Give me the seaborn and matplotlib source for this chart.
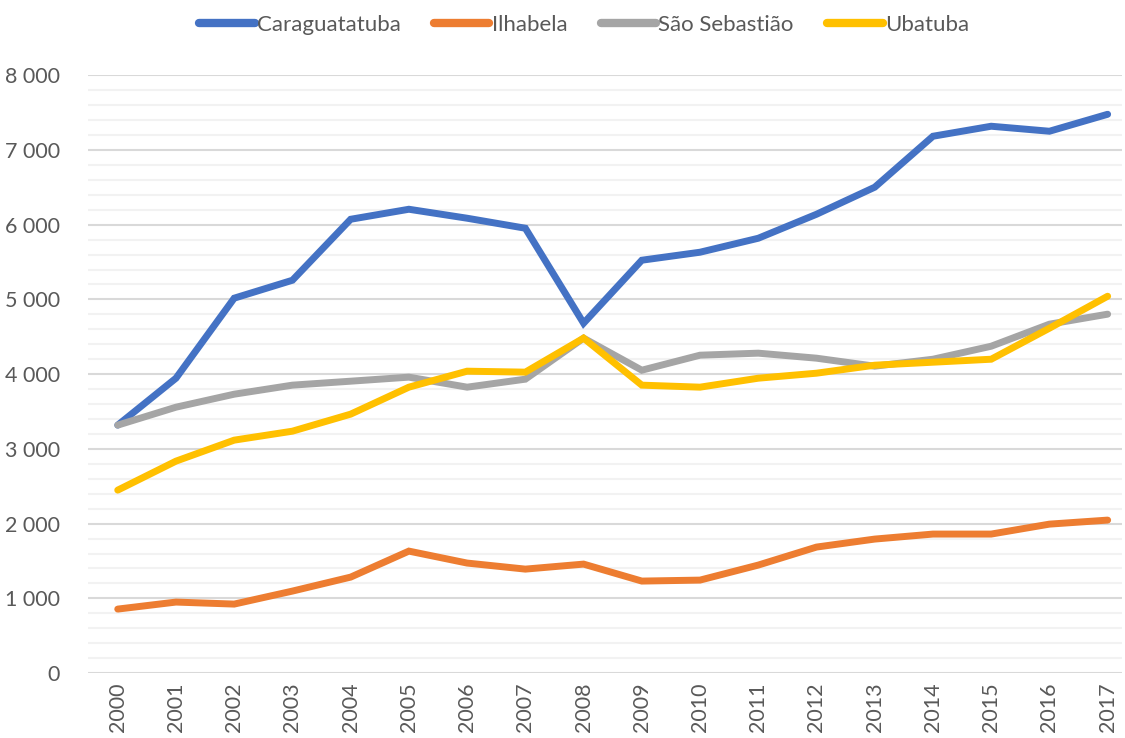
import matplotlib
matplotlib.use("Agg")
import matplotlib.pyplot as plt
import matplotlib.ticker as mticker
import seaborn as sns
import pandas as pd

years = list(range(2000, 2018))
caraguatatuba = [3318, 3946, 5017, 5257, 6073, 6207, 6087, 5953, 4682, 5525, 5632, 5819, 6140, 6502, 7184, 7318, 7251, 7478]
ilhabela = [856, 950, 923, 1097, 1284, 1632, 1472, 1391, 1458, 1231, 1244, 1445, 1686, 1793, 1860, 1860, 1993, 2047]
sao_sebastiao = [3318, 3558, 3732, 3853, 3906, 3960, 3826, 3933, 4482, 4053, 4254, 4281, 4214, 4107, 4200, 4374, 4669, 4803]
ubatuba = [2448, 2836, 3117, 3237, 3465, 3826, 4040, 4027, 4482, 3853, 3826, 3946, 4013, 4120, 4160, 4200, 4615, 5043]
series_names = ["Caraguatatuba", "Ilhabela", "São Sebastião", "Ubatuba"]
colors = ["#4472C4", "#ED7D31", "#A5A5A5", "#FFC000"]

frames = []
for name, vals in zip(series_names, [caraguatatuba, ilhabela, sao_sebastiao, ubatuba]):
    frames.append(pd.DataFrame({"Ano": years, "Valor": vals, "Município": name}))
df = pd.concat(frames, ignore_index=True)

sns.set_theme(style="white")
plt.rcParams["font.family"] = ["Lato", "DejaVu Sans"]

fig = plt.figure(figsize=(11.25, 7.38), dpi=100)
ax = fig.add_axes([0.078, 0.088, 0.919, 0.810])

sns.lineplot(data=df, x="Ano", y="Valor", hue="Município", hue_order=series_names,
             palette=colors, linewidth=5, ax=ax, legend=True, zorder=3,
             solid_capstyle="round", solid_joinstyle="miter")

ax.set_ylim(0, 8000)
ax.set_xlim(1999.485, 2017.24)
ax.yaxis.set_major_locator(mticker.MultipleLocator(1000))
ax.yaxis.set_minor_locator(mticker.MultipleLocator(200))
ax.yaxis.set_major_formatter(mticker.FuncFormatter(lambda v, p: f"{int(v):,}".replace(",", " ")))
ax.set_xticks(years)
ax.set_xticklabels([str(y) for y in years], rotation=90)
ax.grid(which="major", axis="y", color="#D9D9D9", linewidth=1.5, zorder=0)
ax.grid(which="minor", axis="y", color="#F2F2F2", linewidth=1.5, zorder=0)
ax.grid(which="major", axis="x", visible=False)
for s in ax.spines.values():
    s.set_visible(False)
ax.tick_params(axis="both", which="both", length=0, labelsize=15.5, colors="#595959")
ax.tick_params(axis="y", pad=20)
ax.tick_params(axis="x", pad=7)
ax.set_xlabel("")
ax.set_ylabel("")

handles, labels = ax.get_legend_handles_labels()
for h in handles:
    h.set_linewidth(6)
    h.set_solid_capstyle("round")
ax.legend(handles, labels, loc="upper center", bbox_to_anchor=(0.48, 1.135), ncol=4,
          frameon=False, fontsize=16, handlelength=2.5, handletextpad=0.1,
          columnspacing=1.5, labelcolor="#595959")

fig.savefig("out.png", dpi=100)
